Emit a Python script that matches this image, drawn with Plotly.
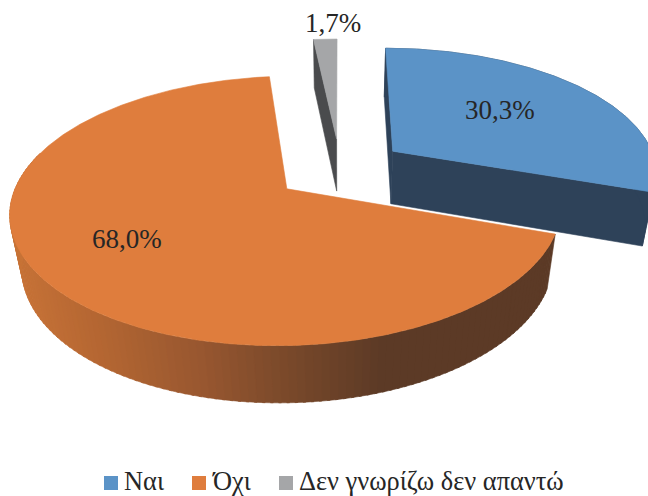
import math
import plotly.graph_objects as go

categories = ["Ναι", "Όχι", "Δεν γνωρίζω δεν απαντώ"]
values = [30.3, 68.0, 1.7]
colors = ["#5B93C7", "#DF7D3D", "#A5A6A8"]
side_colors = ["#2E4259", "#5C3A25", "#4A4B4D"]

# view of the tilted pie, in the pixel units of the axes
CX, CY, A, B, K, E, H, PULL = 340, 168.9, 265, 124.7, 0.16, 0.036, 55, 0.25

def proj(u, v, low=False):
    w = 1 + K * v + (E if low else 0)
    return CX + A * u / w, CY - (B * v - (H if low else 0)) / w

def slice_geo():
    out, start = [], 0.0
    total = sum(values)
    for val in values:
        end = start + val / total * 360
        mid = math.radians((start + end) / 2)
        out.append((start, end, PULL * math.sin(mid), PULL * math.cos(mid)))
        start = end
    return out

def rim(g, a, low=False):
    r = math.radians(a)
    return proj(g[2] + math.sin(r), g[3] + math.cos(r), low)

def arc(g, a0, a1, low=False):
    n = max(2, int(abs(a1 - a0) / 0.5))
    return [rim(g, a0 + (a1 - a0) * i / n, low) for i in range(n + 1)]

fig = go.Figure()

def poly(pts, color):
    fig.add_trace(go.Scatter(
        x=[p[0] for p in pts] + [pts[0][0]], y=[p[1] for p in pts] + [pts[0][1]],
        mode="lines", fill="toself", fillcolor=color, line=dict(width=0.6, color=color),
        hoverinfo="skip", showlegend=False))

def top(i):
    g = geos[i]
    poly([proj(g[2], g[3])] + arc(g, g[0], g[1]), colors[i])

def cut(i, a):
    g = geos[i]
    poly([proj(g[2], g[3]), rim(g, a), rim(g, a, True), proj(g[2], g[3], True)], side_colors[i])

geos = slice_geo()
ramp = [(0, (203, 117, 56)), (100, (180, 102, 50)), (200, (152, 87, 48)),
        (290, (120, 72, 42)), (380, (92, 58, 38)), (648, (92, 58, 38))]

def ramp_color(x):
    for (x0, c0), (x1, c1) in zip(ramp, ramp[1:]):
        if x <= x1:
            t = (x - x0) / (x1 - x0)
            return "rgb(%d,%d,%d)" % tuple(round(c0[j] + (c1[j] - c0[j]) * t) for j in range(3))
    return "rgb(92,58,38)"

# grey slice
cut(2, geos[2][0])
top(2)
# blue slice
cut(0, geos[0][0])
cut(0, geos[0][1])
g = geos[0]
poly(arc(g, g[0], g[1]) + arc(g, g[1], g[0], True), side_colors[0])
top(0)
# orange slice: shaded wall, then top
g = geos[1]
a0, a1 = g[0], 285.0
step = 1.5
a = a0
while a < a1:
    b = min(a + step + 0.5, g[1])
    pts = arc(g, a, b) + arc(g, b, a, True)
    x = sum(p[0] for p in pts) / len(pts)
    poly(pts, ramp_color(x))
    a += step
top(1)

# legend swatches
swatch_x = [111, 199, 286]
for sx, c, name in zip(swatch_x, colors, categories):
    fig.add_trace(go.Scatter(x=[sx], y=[483], mode="markers", name=name,
                             marker=dict(symbol="square", size=14, color=c, line=dict(width=0)),
                             hoverinfo="skip", showlegend=False))

TXT = "#262626"
FONT = "Liberation Serif"
label_pos = [(500, 110), (127, 239), (333, 23)]
ann = []
for (lx, ly), v in zip(label_pos, values):
    ann.append(dict(x=lx, y=ly, text=f"{v:.1f}".replace(".", ",") + "%", showarrow=False,
                    font=dict(family=FONT, size=27, color=TXT)))
legend_x = [123, 211, 298]
for lx, name in zip(legend_x, categories):
    ann.append(dict(x=lx, y=480.5, text=name, showarrow=False, xanchor="left", borderpad=0,
                    font=dict(family=FONT, size=26.4, color=TXT)))

fig.update_layout(
    width=648, height=496, margin=dict(l=0, r=0, t=0, b=0, pad=0),
    paper_bgcolor="white", plot_bgcolor="white", showlegend=False, annotations=ann,
    xaxis=dict(range=[0, 648], visible=False, fixedrange=True),
    yaxis=dict(range=[496, 0], visible=False, fixedrange=True),
)
fig.write_html("out.html", config=dict(displayModeBar=False),
               post_script="document.body.style.margin='0';")
